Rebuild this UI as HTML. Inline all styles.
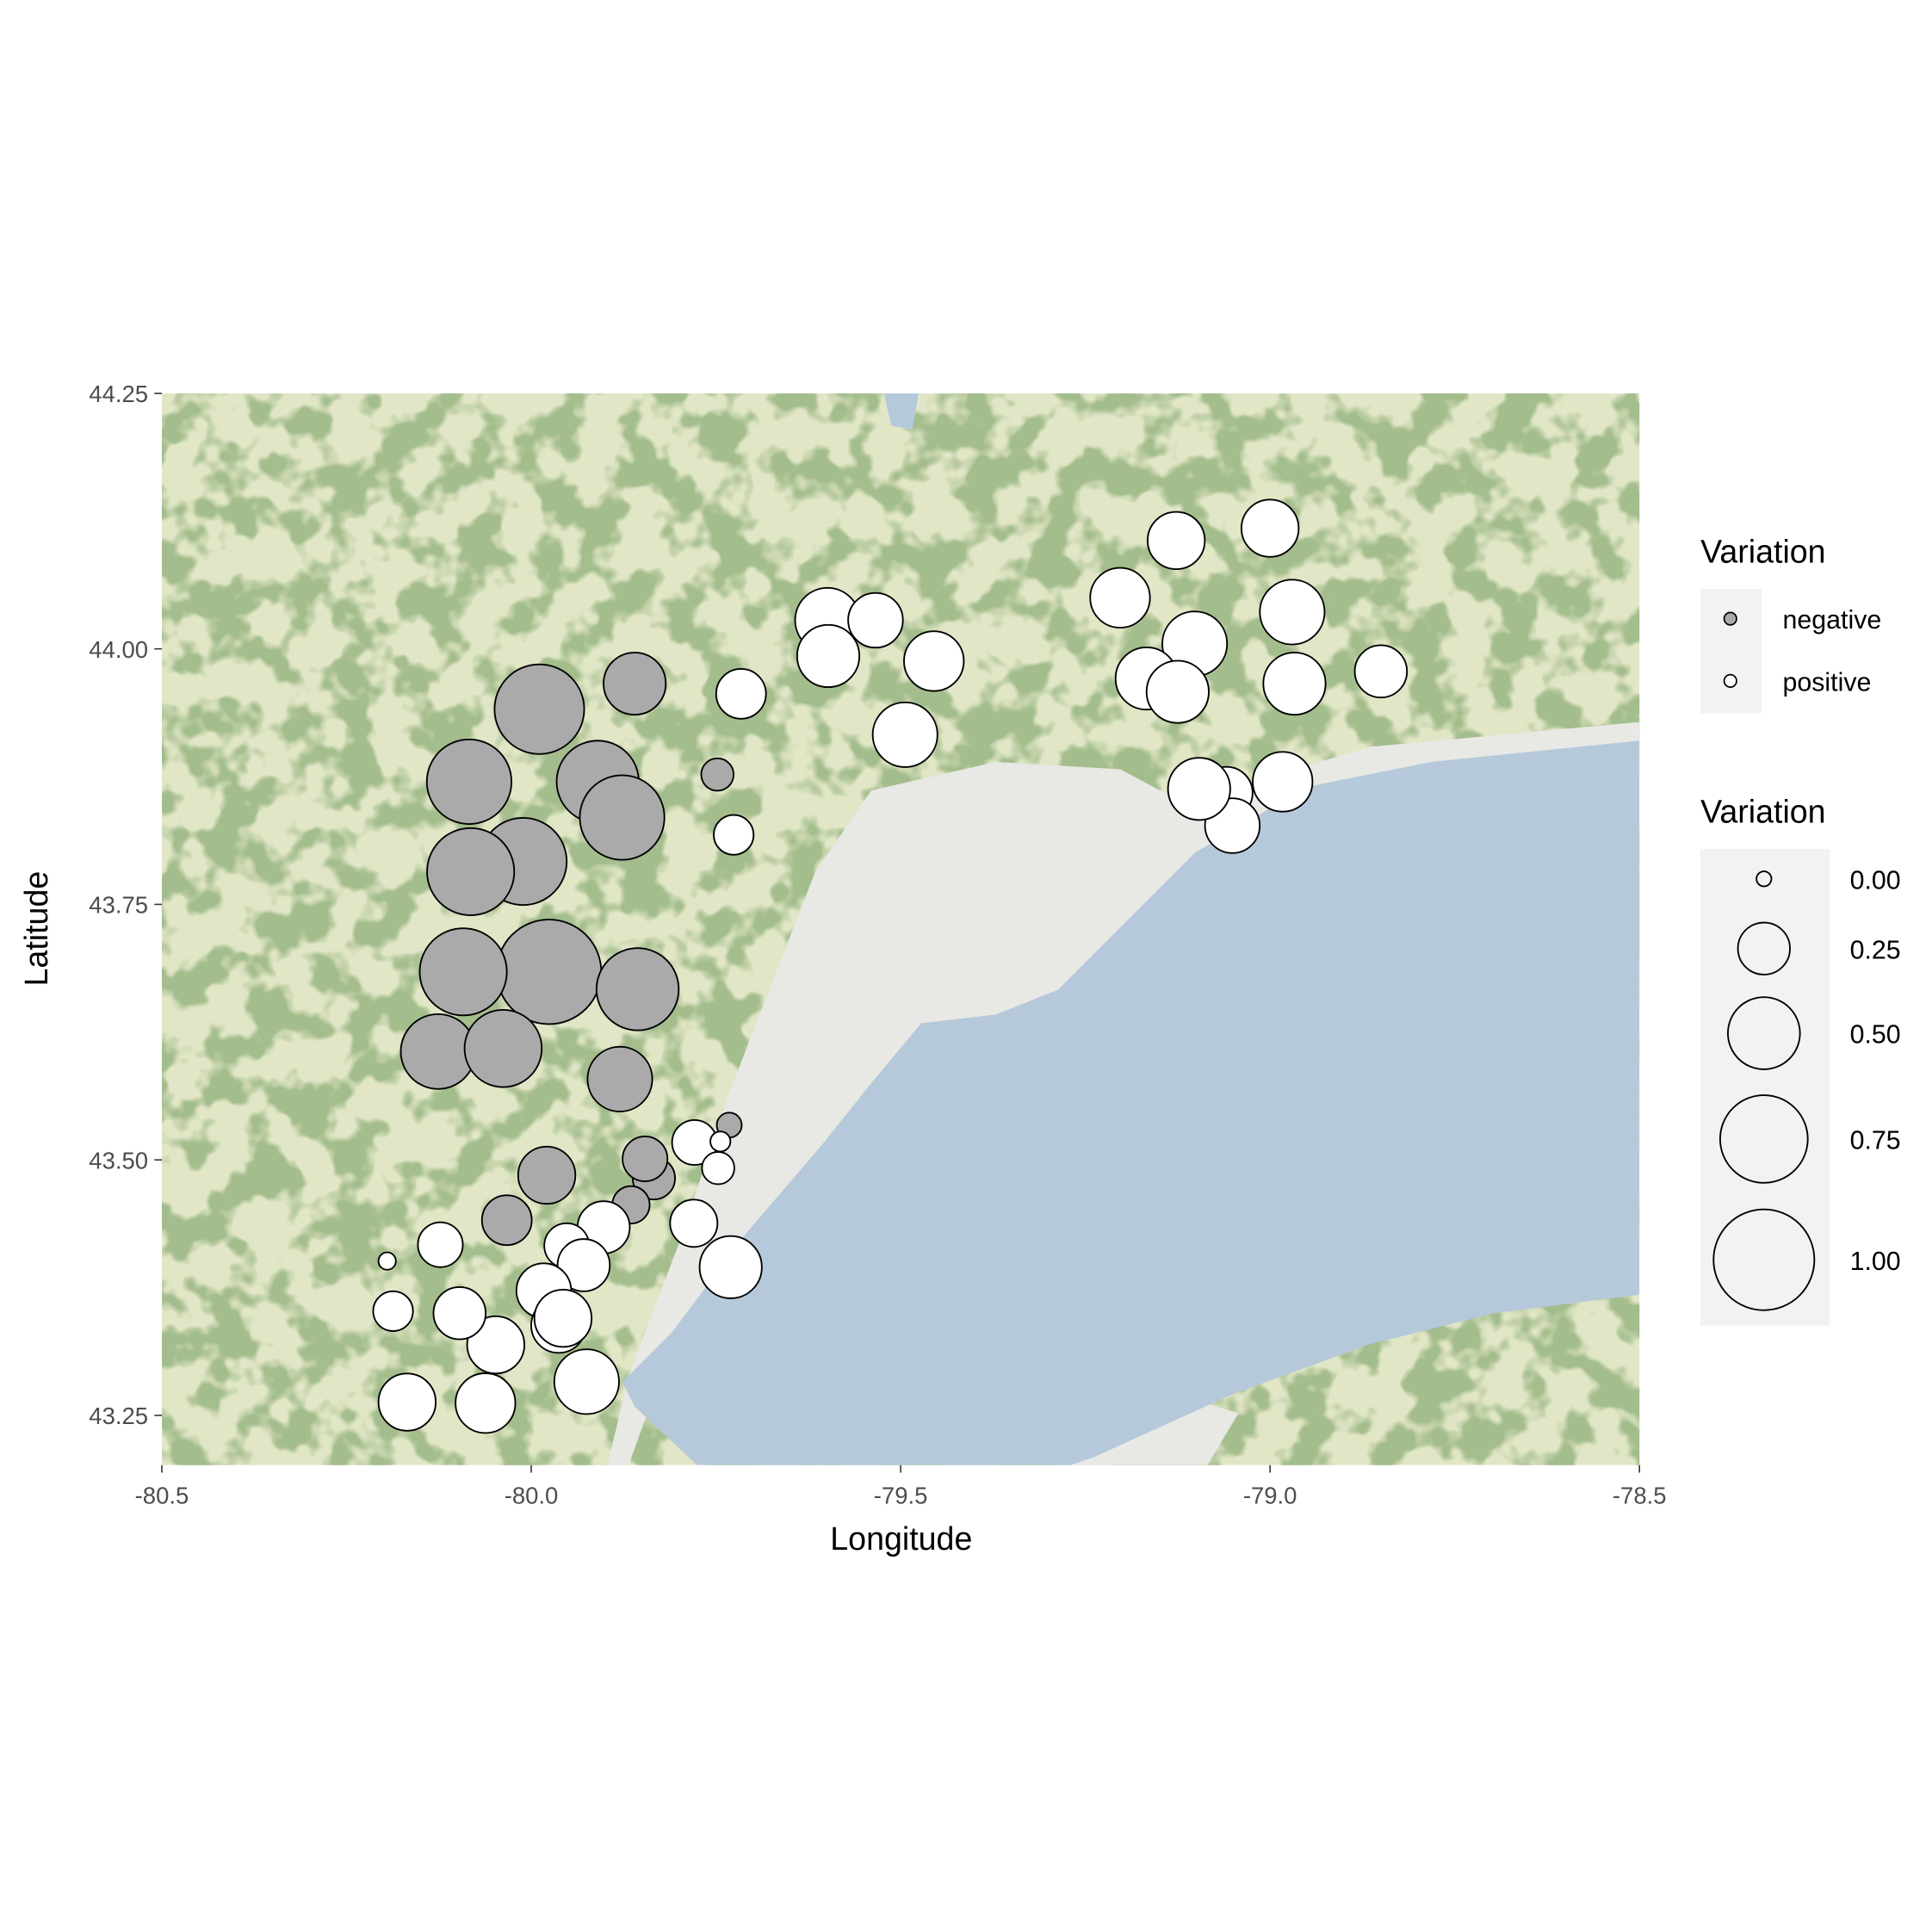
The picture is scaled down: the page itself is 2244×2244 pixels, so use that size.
<!DOCTYPE html>
<html><head><meta charset="utf-8"><style>
html,body{margin:0;padding:0;background:#fff;}
svg{display:block;font-family:"Liberation Sans",Arial,sans-serif;}
</style></head><body>
<svg id="chart" width="2244" height="2244" viewBox="0 0 1552 1552" xmlns="http://www.w3.org/2000/svg">
<defs>
<clipPath id="pc"><rect x="130" y="316" width="1187" height="861"/></clipPath>
<filter id="noise" x="0" y="0" width="100%" height="100%" color-interpolation-filters="sRGB">
<feTurbulence type="fractalNoise" baseFrequency="0.03" numOctaves="3" seed="7"/>
<feColorMatrix type="matrix" values="0 0 0 0 0.64  0 0 0 0 0.74  0 0 0 0 0.55  8 0 0 0 -3.7"/>
</filter>
</defs>
<g id="map" clip-path="url(#pc)">
<rect x="130" y="316" width="1187" height="861" fill="#e1e6c6"/>
<rect x="130" y="316" width="1187" height="861" filter="url(#noise)"/>
<polygon fill="#e8e8e5" points="488,1177 505,1105 545,1000 585,880 620,790 655,700 700,635 800,612 900,618 960,650 1000,630 1100,600 1317,580 1317,600 1150,620 1050,640 960,690 900,750 850,800 800,820 740,830 700,880 660,930 600,1000 540,1080 505,1177"/>
<polygon fill="#e8e8e5" points="840,1177 900,1140 960,1125 995,1135 970,1177"/>
<polygon fill="#b6c9da" points="500,1110 540,1070 600,990 660,920 700,870 740,822 800,815 850,795 900,745 960,685 1050,632 1150,612 1317,595 1317,1040 1200,1055 1100,1080 990,1120 880,1170 860,1177 560,1177 510,1130"/>
<polygon fill="#b6c9da" points="710,316 738,316 733,345 716,342"/>
</g>
<g id="ticks"></g>
<g id="pts" clip-path="url(#pc)"></g>
<text x="724" y="1245" font-size="26" text-anchor="middle" fill="#000">Longitude</text>
<text transform="translate(38,746) rotate(-90)" font-size="26" text-anchor="middle" fill="#000">Latitude</text>
<g>
<text x="1366" y="452" font-size="26" fill="#000">Variation</text>
<rect x="1366" y="473" width="49" height="100" fill="#f2f2f2"/>
<circle cx="1390" cy="497" r="5" fill="#aaaaaa" stroke="#000" stroke-width="1.2"/>
<circle cx="1390" cy="547" r="5" fill="#fff" stroke="#000" stroke-width="1.2"/>
<text x="1432" y="505" font-size="21" fill="#000">negative</text>
<text x="1432" y="555" font-size="21" fill="#000">positive</text>
</g>
<g id="sizeLegend">
<text x="1366" y="661" font-size="26" fill="#000">Variation</text>
<rect x="1366" y="682" width="104" height="383" fill="#f2f2f2"/>
</g>
<script>
const lon=[-79.989,-80.084,-79.910,-79.877,-80.011,-80.082,-79.860,-79.748,-79.976,-80.092,-79.856,-80.126,-80.038,-79.880,-79.979,-80.033,-79.834,-79.846,-79.865,-79.732,
-79.000,-79.127,-79.203,-79.599,-79.534,-79.598,-79.455,-79.716,-78.970,-79.102,-79.167,-79.125,-78.967,-78.850,-79.494,-78.983,-79.059,-79.051,-79.096,-79.726,-79.779,-79.747,-79.744,-79.780,-79.730,-79.902,-79.952,-79.929,-79.983,-79.963,-79.957,-79.925,-80.048,-80.097,-80.123,-80.187,-80.195,-80.168,-80.062];
const lat=[43.941,43.870,43.870,43.835,43.792,43.782,43.966,43.877,43.684,43.684,43.667,43.606,43.609,43.579,43.485,43.441,43.482,43.501,43.456,43.534,
44.118,44.106,44.050,44.028,44.028,43.993,43.988,43.956,44.036,44.005,43.971,43.958,43.966,43.978,43.916,43.870,43.859,43.827,43.863,43.818,43.517,43.492,43.518,43.438,43.395,43.434,43.416,43.397,43.372,43.338,43.345,43.283,43.319,43.350,43.417,43.352,43.401,43.263,43.262];
const variation=[0.786,0.698,0.657,0.698,0.741,0.741,0.367,0.083,1.077,0.741,0.657,0.539,0.577,0.399,0.307,0.227,0.158,0.180,0.118,0.040,
0.307,0.307,0.337,0.399,0.279,0.367,0.337,0.227,0.399,0.399,0.367,0.367,0.367,0.252,0.399,0.337,0.252,0.279,0.367,0.137,0.180,0.083,0.018,0.203,0.367,0.252,0.180,0.252,0.279,0.279,0.307,0.399,0.307,0.252,0.180,0.137,0.008,0.307,0.337];
const sign=["n","n","n","n","n","n","n","n","n","n","n","n","n","n","n","n","n","n","n","n",
"p","p","p","p","p","p","p","p","p","p","p","p","p","p","p","p","p","p","p","p","p","p","p","p","p","p","p","p","p","p","p","p","p","p","p","p","p","p","p"];
const xTicks=[-80.5,-80.0,-79.5,-79.0,-78.5];
const xTickLabels=["-80.5","-80.0","-79.5","-79.0","-78.5"];
const yTicks=[43.25,43.50,43.75,44.00,44.25];
const yTickLabels=["43.25","43.50","43.75","44.00","44.25"];
const sizeBreaks=[0,0.25,0.5,0.75,1.0];
const sizeLabels=["0.00","0.25","0.50","0.75","1.00"];
const NS="http://www.w3.org/2000/svg";
const X=v=>130+(v+80.5)/2*1187;
const Y=v=>316+(44.25-v)*821;
const R=v=>Math.sqrt(36+1604*v);
function mk(t,a,p){const e=document.createElementNS(NS,t);for(const k in a)e.setAttribute(k,a[k]);p.appendChild(e);return e;}
const tg=document.getElementById('ticks');
xTicks.forEach((t,i)=>{
 const l=mk('line',{x1:X(t),x2:X(t),y1:1177,y2:1183,stroke:'#333','stroke-width':1.1},tg);
 
 
 const tx=mk('text',{x:X(t),y:1208,'font-size':19,'text-anchor':'middle',fill:'#4d4d4d'},tg);
 tx.textContent=xTickLabels[i];
 
 
});
yTicks.forEach((t,i)=>{
 const l=mk('line',{x1:124,x2:130,y1:Y(t),y2:Y(t),stroke:'#333','stroke-width':1.1},tg);
 
 
 const tx=mk('text',{x:119,y:Y(t)+7,'font-size':19,'text-anchor':'end',fill:'#4d4d4d'},tg);
 tx.textContent=yTickLabels[i];
 
 
});
const pg=document.getElementById('pts');
lon.forEach((v,i)=>{
 const c=mk('circle',{cx:X(v),cy:Y(lat[i]),r:R(variation[i]),fill:sign[i]==='n'?'#aaaaaa':'#ffffff',stroke:'#000','stroke-width':1.3},pg);
 
 
});
const sl=document.getElementById('sizeLegend');
const ly=[706,762,830,915,1012];
sizeBreaks.forEach((b,i)=>{
 const c=mk('circle',{cx:1417,cy:ly[i],r:R(b),fill:'#fff','fill-opacity':0,stroke:'#000','stroke-width':1.3},sl);
 
 
 const tx=mk('text',{x:1486,y:ly[i]+8,'font-size':21,fill:'#000'},sl);
 tx.textContent=sizeLabels[i];
 
 
});
</script>
</svg>
</body></html>
